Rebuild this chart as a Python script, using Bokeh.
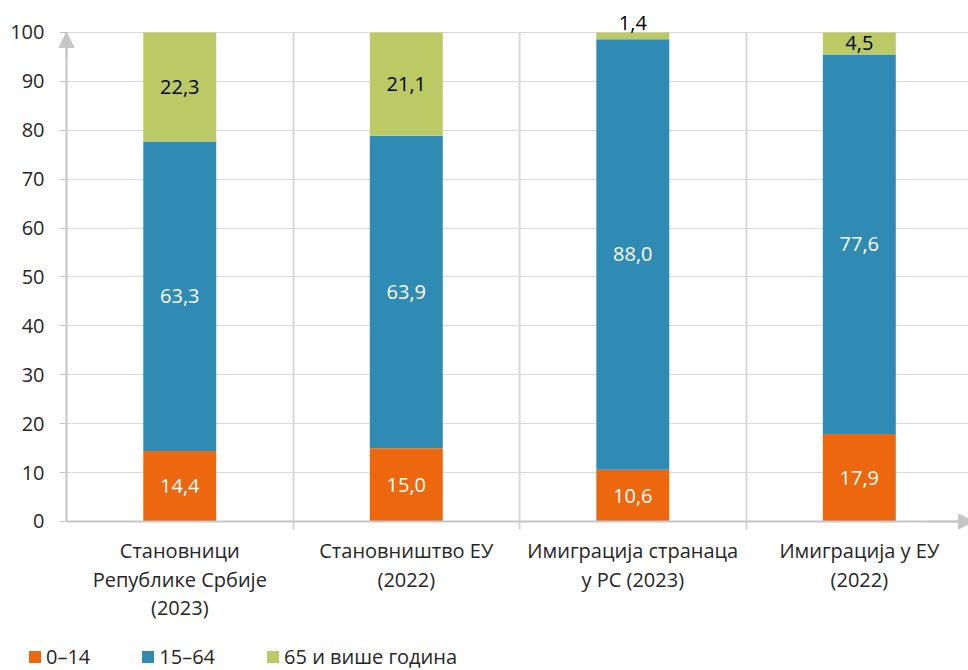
from bokeh.plotting import figure
from bokeh.models import (ColumnDataSource, Range1d, FixedTicker, LabelSet, Arrow,
                          NormalHead, Legend, LegendItem, Grid)
from bokeh.core.properties import value
from bokeh.embed import file_html
from bokeh.resources import INLINE

categories = ["Становници\nРепублике Србије\n(2023)",
              "Становништво ЕУ\n(2022)",
              "Имиграција странаца\nу РС (2023)",
              "Имиграција у ЕУ\n(2022)"]
age_groups = ["0–14", "15–64", "65 и више година"]
share_0_14 = [14.4, 15.0, 10.6, 17.9]
share_15_64 = [63.3, 63.9, 88.0, 77.6]
share_65_plus = [22.3, 21.1, 1.4, 4.5]
y_ticks = [0, 10, 20, 30, 40, 50, 60, 70, 80, 90, 100]

colors = ["#EC670E", "#2F8AB4", "#BBCA64"]
label_colors = ["#FFFFFF", "#FFFFFF", "#000000"]
AXIS = "#C6C6C6"
GRID = "#D9D9D9"
TEXT = "#262626"
FONT = "Open Sans"

xs = [i + 0.5 for i in range(len(categories))]
seps = [float(i) for i in range(1, len(categories))]
series = [share_0_14, share_15_64, share_65_plus]
y_max = y_ticks[-1]

src = ColumnDataSource(dict(x=xs, s0=share_0_14, s1=share_15_64, s2=share_65_plus))

X_START, X_END = -0.2914, 3.982
Y_START, Y_END = -30.47, 106.54
p = figure(width=968, height=670, x_range=Range1d(X_START, X_END), y_range=Range1d(Y_START, Y_END),
           output_backend="svg", toolbar_location=None,
           min_border_left=0, min_border_right=0, min_border_top=0, min_border_bottom=0)
p.outline_line_color = None

rs = p.vbar_stack(["s0", "s1", "s2"], x="x", width=0.322, color=colors,
                  line_color=None, source=src)

# data labels
lx, ly, lt, lc = [], [], [], []
for i, xv in enumerate(xs):
    bottom = 0.0
    for k, s in enumerate(series):
        v = s[i]
        if v < 3:
            yy = bottom + v + 2.0
        else:
            yy = bottom + v / 2
        lx.append(xv)
        ly.append(yy)
        lt.append(f"{v:.1f}".replace(".", ","))
        lc.append(label_colors[k] if v >= 3 else "#000000")
        bottom += v
lsrc = ColumnDataSource(dict(x=lx, y=ly, text=lt, color=lc))
labels = LabelSet(x="x", y="y", text="text", source=lsrc, text_align="center",
                  text_baseline="middle", text_color="color",
                  text_font=value(FONT), text_font_size="20px")
p.add_layout(labels)

# axes (placed at data 0 inside the frame)
p.xaxis.fixed_location = 0
p.xaxis.bounds = (0, X_END)
p.xaxis.ticker = FixedTicker(ticks=xs)
p.xaxis.major_label_overrides = {xv: c for xv, c in zip(xs, categories)}
p.xaxis.major_tick_out = 0
p.xaxis.major_tick_in = 0
p.xaxis.major_tick_line_color = None
p.xaxis.minor_tick_line_color = None
p.xaxis.axis_line_color = AXIS
p.xaxis.axis_line_width = 2
p.xaxis.major_label_text_font = FONT
p.xaxis.major_label_text_font_size = "20px"
p.xaxis.major_label_text_color = TEXT
p.xaxis.major_label_text_line_height = 1.05
p.xaxis.major_label_standoff = 16

p.yaxis.fixed_location = 0
p.yaxis.bounds = (0, y_max)
p.yaxis.ticker = FixedTicker(ticks=y_ticks)
p.yaxis.major_tick_out = 7
p.yaxis.major_tick_in = 0
p.yaxis.major_tick_line_color = AXIS
p.yaxis.major_tick_line_width = 1
p.yaxis.minor_tick_line_color = None
p.yaxis.axis_line_color = AXIS
p.yaxis.axis_line_width = 2
p.yaxis.major_label_text_font = FONT
p.yaxis.major_label_text_font_size = "20px"
p.yaxis.major_label_text_color = TEXT
p.yaxis.major_label_standoff = 15

p.xgrid.ticker = FixedTicker(ticks=seps)
p.xgrid.grid_line_color = GRID
p.xgrid.grid_line_width = 2
p.ygrid.ticker = FixedTicker(ticks=y_ticks)
p.ygrid.grid_line_color = GRID
p.ygrid.grid_line_width = 1
if "cross_bounds" in Grid.properties():
    p.xgrid.cross_bounds = (-1.7, y_max)
    p.ygrid.cross_bounds = (0, X_END)

# axis arrows
p.add_layout(Arrow(end=NormalHead(size=15, fill_color=AXIS, line_color=AXIS, line_width=1),
                   x_start=0, y_start=95, x_end=0, y_end=y_max,
                   line_color=AXIS, line_width=2))
p.add_layout(Arrow(end=NormalHead(size=15, fill_color=AXIS, line_color=AXIS, line_width=1),
                   x_start=3.8, y_start=0, x_end=4.004, y_end=0,
                   line_color=AXIS, line_width=2))

legend = Legend(items=[LegendItem(label=g, renderers=[r]) for g, r in zip(age_groups, rs)],
                orientation="horizontal", location=(27, 0),
                glyph_width=15, glyph_height=15, label_standoff=4, spacing=50,
                padding=0, margin=0, border_line_color=None, background_fill_alpha=0,
                label_text_font=FONT, label_text_font_size="20px",
                label_text_color=TEXT)
p.add_layout(legend)

open("out.html", "w").write(file_html(p, INLINE))
